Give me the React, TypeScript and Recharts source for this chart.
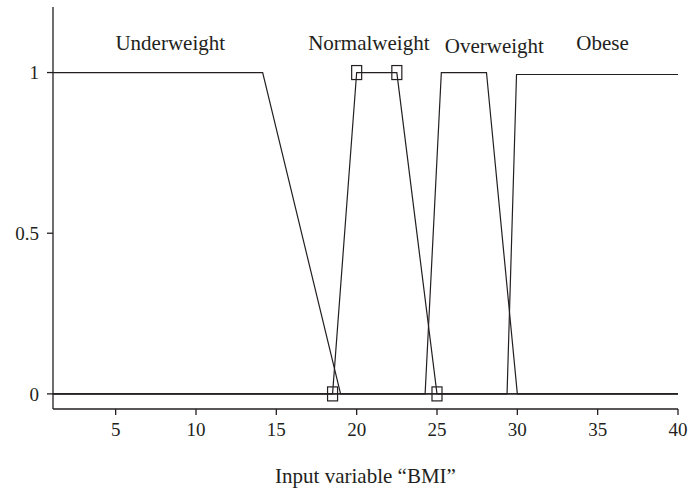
import React from "react";
import { LineChart, Line, XAxis, YAxis, ReferenceDot } from "recharts";

const underX = [1.1, 14.15, 19.0, 40];
const underY = [1, 1, 0, 0];
const normalX = [1.1, 18.5, 20, 22.5, 25, 40];
const normalY = [0, 0, 1, 1, 0, 0];
const overX = [1.1, 24.26, 25.27, 28.08, 30.0, 40];
const overY = [0, 0, 1, 1, 0, 0];
const obeseX = [1.1, 29.36, 29.95, 40];
const obeseY = [0, 0, 0.994, 0.994];
const markedNormal = [18.5, 20, 22.5, 25];

const xTicks = [5, 10, 15, 20, 25, 30, 35, 40];
const yTicks = [0, 0.5, 1];

const labelNames = ["Underweight", "Normalweight", "Overweight", "Obese"];
const labelX = [8.4, 20.76, 28.57, 35.3];
const labelY = [1.092, 1.092, 1.083, 1.092];

const zip = (xs: number[], ys: number[]) => xs.map((x, i) => ({ x, y: ys[i] }));

const FONT = "'Liberation Serif', 'DejaVu Serif', serif";
const INK = "#231f20";

const SquareDot = (props: any) => {
  const { cx, cy, payload } = props;
  if (!markedNormal.includes(payload.x)) return <g key={props.index} />;
  const w = 10;
  const h = 14;
  return (
    <rect
      key={props.index}
      x={cx - w / 2}
      y={cy - h / 2}
      width={w}
      height={h}
      fill="none"
      stroke={INK}
      strokeWidth={1.2}
    />
  );
};

export default function App() {
  return (
    <div style={{ position: "absolute", left: 0, top: 0, width: 688, height: 492, background: "#fff" }}>
      <LineChart
        width={688}
        height={492}
        margin={{ top: 7, right: 10, left: 0, bottom: 0 }}
      >
        <XAxis
          xAxisId="b"
          type="number"
          dataKey="x"
          domain={[1.1, 40]}
          ticks={xTicks}
          allowDataOverflow
          height={83}
          tickSize={6}
          tickMargin={8}
          stroke={INK}
          strokeWidth={1.3}
          tick={{ fill: INK, fontFamily: FONT, fontSize: 19 }}
          label={{
            value: "Input variable \u201cBMI\u201d",
            position: "insideBottom",
            offset: 9,
            fill: INK,
            fontFamily: FONT,
            fontSize: 21,
          }}
        />
        <XAxis
          xAxisId="t"
          orientation="top"
          type="number"
          dataKey="x"
          domain={[1.1, 40]}
          height={0}
          tick={false}
          tickLine={false}
          stroke={INK}
          strokeWidth={1.3}
        />
        <YAxis
          yAxisId="l"
          type="number"
          domain={[-0.047, 1.204]}
          ticks={yTicks}
          allowDataOverflow
          width={53}
          tickSize={6}
          tickMargin={8}
          stroke={INK}
          strokeWidth={1.3}
          tick={{ fill: INK, fontFamily: FONT, fontSize: 19 }}
        />
        <YAxis
          yAxisId="r"
          orientation="right"
          type="number"
          domain={[-0.047, 1.204]}
          width={0}
          tick={false}
          tickLine={false}
          stroke={INK}
          strokeWidth={1.3}
        />
        <Line
          xAxisId="b"
          yAxisId="l"
          data={zip(underX, underY)}
          dataKey="y"
          stroke={INK}
          strokeWidth={1.2}
          dot={false}
          isAnimationActive={false}
          type="linear"
        />
        <Line
          xAxisId="b"
          yAxisId="l"
          data={zip(normalX, normalY)}
          dataKey="y"
          stroke={INK}
          strokeWidth={1.2}
          dot={SquareDot}
          activeDot={false}
          isAnimationActive={false}
          type="linear"
        />
        <Line
          xAxisId="b"
          yAxisId="l"
          data={zip(overX, overY)}
          dataKey="y"
          stroke={INK}
          strokeWidth={1.2}
          dot={false}
          isAnimationActive={false}
          type="linear"
        />
        <Line
          xAxisId="b"
          yAxisId="l"
          data={zip(obeseX, obeseY)}
          dataKey="y"
          stroke={INK}
          strokeWidth={1.2}
          dot={false}
          isAnimationActive={false}
          type="linear"
        />
        {labelNames.map((name, i) => (
          <ReferenceDot
            key={name}
            xAxisId="b"
            yAxisId="l"
            x={labelX[i]}
            y={labelY[i]}
            r={0}
            stroke="none"
            fill="none"
            ifOverflow="visible"
            label={{
              value: name,
              position: "center",
              fill: INK,
              fontFamily: FONT,
              fontSize: 21,
            }}
          />
        ))}
      </LineChart>
    </div>
  );
}
